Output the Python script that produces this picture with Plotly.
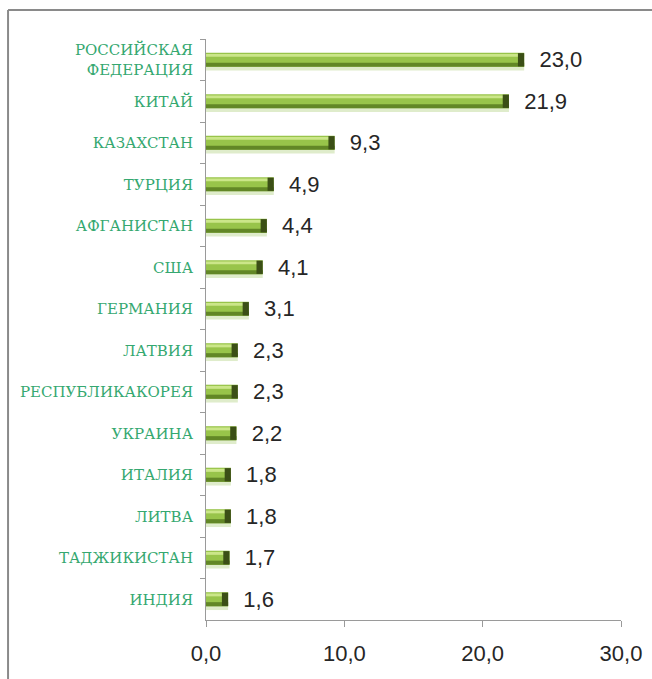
import plotly.graph_objects as go

countries = ["РОССИЙСКАЯ<br>ФЕДЕРАЦИЯ", "КИТАЙ", "КАЗАХСТАН", "ТУРЦИЯ", "АФГАНИСТАН", "США",
             "ГЕРМАНИЯ", "ЛАТВИЯ", "РЕСПУБЛИКАКОРЕЯ", "УКРАИНА", "ИТАЛИЯ", "ЛИТВА",
             "ТАДЖИКИСТАН", "ИНДИЯ"]
values = [23.0, 21.9, 9.3, 4.9, 4.4, 4.1, 3.1, 2.3, 2.3, 2.2, 1.8, 1.8, 1.7, 1.6]
x_ticks = [0, 10, 20, 30]

cap = 0.45
fig = go.Figure()
# soft glow under bar
fig.add_trace(go.Bar(y=countries, x=values, orientation="h", width=0.09, offset=0.17,
                     marker=dict(color="#dfeccb", line=dict(width=0)), hoverinfo="skip"))
# main body
fig.add_trace(go.Bar(y=countries, x=values, orientation="h", width=0.34,
                     marker=dict(color="#98c44a", line=dict(width=0)),
                     texttemplate="\u00a0\u00a0%{x:.1f}", textposition="outside",
                     constraintext="none",
                     textfont=dict(size=22, color="#262626", family="Liberation Sans"),
                     cliponaxis=False, hoverinfo="skip"))
# top highlight
fig.add_trace(go.Bar(y=countries, x=values, orientation="h", width=0.07, offset=-0.14,
                     marker=dict(color="#cbe689", line=dict(width=0)), hoverinfo="skip"))
# bottom shadow
fig.add_trace(go.Bar(y=countries, x=values, orientation="h", width=0.1, offset=0.07,
                     marker=dict(color="#628726", line=dict(width=0)), hoverinfo="skip"))
# dark end cap
fig.add_trace(go.Bar(y=countries, x=[cap] * len(values), base=[v - cap for v in values],
                     orientation="h", width=0.32,
                     marker=dict(color="#3b4f16", line=dict(width=0)), hoverinfo="skip"))

fig.update_layout(
    width=652, height=679,
    margin=dict(l=206, r=31, t=39, b=59),
    paper_bgcolor="white", plot_bgcolor="white",
    barmode="overlay", showlegend=False,
    separators=", ",
    xaxis=dict(range=[0, 30], tickvals=x_ticks, tickformat=".1f",
               showgrid=False, zeroline=False, showline=True, linecolor="#9a9a9a", linewidth=1,
               ticks="outside", ticklen=6, tickcolor="#9a9a9a", ticklabelstandoff=8,
               automargin=False,
               tickfont=dict(size=22, color="#262626", family="Liberation Sans")),
    yaxis=dict(autorange="reversed", showgrid=False, showline=True, linecolor="#9a9a9a",
               linewidth=1, ticks="outside", ticklen=5, tickcolor="#9a9a9a",
               tickson="boundaries", ticklabelstandoff=9, automargin=False,
               tickfont=dict(size=15, color="#35a870", family="DejaVu Serif")),
)
# outer frame
fig.add_shape(type="line", xref="paper", yref="paper", x0=-0.477, x1=1.2, y0=1.0499, y1=1.0499,
              line=dict(color="#8a8a8a", width=2))
fig.add_shape(type="line", xref="paper", yref="paper", x0=-0.477, x1=-0.477, y0=1.0499, y1=-0.2,
              line=dict(color="#8a8a8a", width=2))

fig.write_html("out.html", config={"displayModeBar": False},
               post_script="document.body.style.margin='0';document.body.style.overflow='hidden';")
